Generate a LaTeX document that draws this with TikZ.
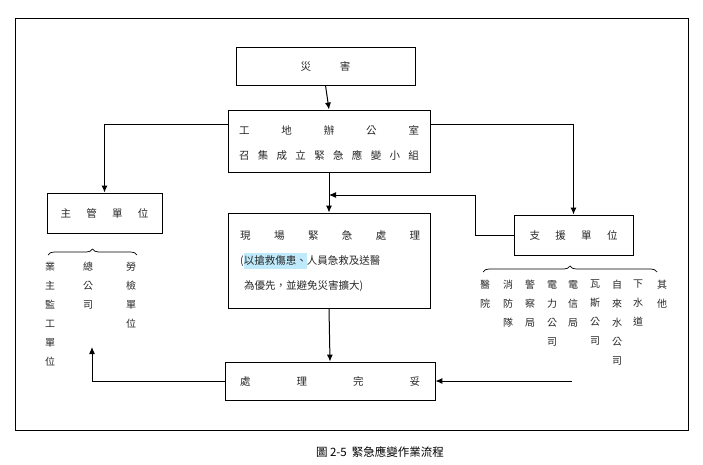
\documentclass[tikz,border=0pt]{standalone}
\usepackage{fontspec}
\setmainfont{Noto Sans CJK TC}
\usetikzlibrary{decorations.pathreplacing,arrows.meta}
\begin{document}
\begin{tikzpicture}[x=1pt,y=-1pt,
  box/.style={draw,line width=0.9pt,inner sep=0pt},
  arr/.style={draw,line width=1pt,-{Latex[length=7pt,width=6pt]}},
  txt/.style={font=\fontsize{10.5}{12}\selectfont,inner sep=0pt,text=black!85},
  col/.style={font=\fontsize{10}{19}\selectfont,inner sep=0pt,text=black!85,align=center,anchor=north,text width=12pt},
  brace/.style={draw,line width=0.7pt,decorate,decoration={brace,amplitude=6pt}}]
\useasboundingbox (0,0) rectangle (703,465);
\draw[line width=0.8pt] (15,18) rectangle (688,430);
\node[box,minimum width=179pt,minimum height=38pt] (dis) at (325.5,66) {};
\node[txt] at (dis) {\makebox[50pt]{災\hfill 害}};
\node[box,minimum width=202pt,minimum height=62pt] (off) at (329,141) {};
\node[txt] at (329,130) {\makebox[180pt]{工\hfill 地\hfill 辦\hfill 公\hfill 室}};
\node[txt] at (329,155) {\makebox[180pt]{召\hfill 集\hfill 成\hfill 立\hfill 緊\hfill 急\hfill 應\hfill 變\hfill 小\hfill 組}};
\node[box,minimum width=115pt,minimum height=40pt] (main) at (104.5,213) {};
\node[txt] at (main) {\makebox[88pt]{主\hfill 管\hfill 單\hfill 位}};
\node[box,minimum width=202pt,minimum height=95pt] (site) at (329,260.5) {};
\node[txt,anchor=west] at (240,236) {\makebox[180pt]{現\hfill 場\hfill 緊\hfill 急\hfill 處\hfill 理}};
\node[txt,anchor=west] at (240,261) {(\colorbox{cyan!25}{\hspace{-3pt}以搶救傷患、\hspace{-3pt}}人員急救及送醫};
\node[txt,anchor=west] at (244,286) {為優先，並避免災害擴大)};
\node[box,minimum width=119pt,minimum height=40pt] (sup) at (573.5,235) {};
\node[txt] at (sup) {\makebox[88pt]{支\hfill 援\hfill 單\hfill 位}};
\node[box,minimum width=210pt,minimum height=38pt] (done) at (330,381) {};
\node[txt] at (done) {\makebox[180pt]{處\hfill 理\hfill 完\hfill 妥}};
\node[font=\fontsize{11.5}{13}\selectfont,inner sep=0pt] (cap) at (380,452) {圖 2-5\ \ 緊急應變作業流程};
% connectors
\draw[arr] (dis.south) -- (off.north);
\draw[arr] (off.west |- 0,125) -| (main.north);
\draw[arr] (off.east |- 0,125) -| (sup.north);
\draw[arr] (off.south) -- (site.north);
\draw[arr] (sup.west) -| (475,195) -- (329,195);
\draw[arr] (site.south) -- (done.north);
\coordinate (up) at (92,347);
\draw[arr] (done.west) -| (up);
\coordinate (fr) at (572,381);
\draw[arr] (fr) -- (done.east);
% braces
\draw[brace] (48,255) -- (137,255);
\draw[brace] (483,272) -- (657,272);
% columns
\node[col] at (50,262) {業\\主\\監\\工\\單\\位};
\node[col] at (88,262) {總\\公\\司};
\node[col] at (131,262) {勞\\檢\\單\\位};
\foreach \x/\t in {485/醫\\院,508/消\\防\\隊,530/警\\察\\局,552/電\\力\\公\\司,573/電\\信\\局,595/瓦\\斯\\公\\司,617/自\\來\\水\\公\\司,638/下\\水\\道,662/其\\他}
  \node[col] at (\x,280) {\t};
\end{tikzpicture}
\end{document}
